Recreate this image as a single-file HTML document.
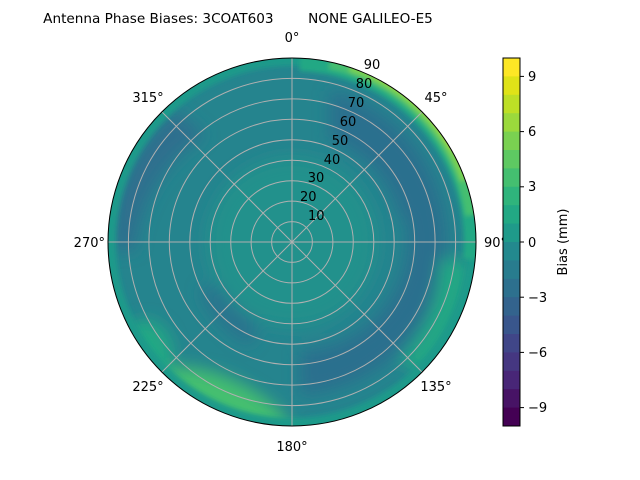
<!DOCTYPE html>
<html><head><meta charset="utf-8"><style>
body{margin:0;background:#fff;width:640px;height:480px;overflow:hidden}
svg{display:block}
text{font-family:"DejaVu Sans","Liberation Sans",sans-serif;fill:#000}
</style></head><body>
<svg width="640" height="480" viewBox="0 0 640 480" xmlns="http://www.w3.org/2000/svg">
<defs>
<clipPath id="c"><circle cx="292" cy="242" r="184"/></clipPath>
<filter id="b" x="-20%" y="-20%" width="140%" height="140%"><feGaussianBlur stdDeviation="8"/></filter>
<filter id="b2"><feGaussianBlur stdDeviation="2.5"/></filter>
</defs>
<text x="238" y="23" text-anchor="middle" font-size="13.6" style="white-space:pre">Antenna Phase Biases: 3COAT603        NONE GALILEO-E5</text>
<g clip-path="url(#c)">
<rect x="100" y="50" width="390" height="390" fill="#25848e"/>
<g filter="url(#b)">
<circle cx="292" cy="242" r="85" fill="#21918c"/>
<path d="M330 90 A155 155 0 0 1 300 395 L300 350 A110 110 0 0 0 330 135 Z" fill="#2c6f8e"/>
<path d="M330 100 A145 145 0 0 1 440 210 L400 220 A110 110 0 0 0 330 140 Z" fill="#2c6f8e"/>
<path d="M175 110 A160 160 0 0 0 112 250 L135 250 A150 150 0 0 1 205 135 Z" fill="#2d708e"/>
<path d="M200 290 A110 110 0 0 0 250 345 L258 325 A95 95 0 0 1 218 285 Z" fill="#2c728e"/>
<ellipse cx="225" cy="405" rx="70" ry="26" fill="#44bf70" transform="rotate(25 225 405)"/>
<ellipse cx="145" cy="355" rx="28" ry="35" fill="#22a884"/>
<path d="M440 260 A150 150 0 0 1 400 360 L420 375 A170 170 0 0 0 470 260 Z" fill="#22a884"/>
</g>
<circle cx="292" cy="242" r="182" fill="none" stroke="#1f9a8a" stroke-width="12" filter="url(#b2)"/>
<g filter="url(#b2)">
<path d="M300 60 A182 182 0 0 1 474 260" fill="none" stroke="#22a884" stroke-width="22"/>
<path d="M330 62 A180 180 0 0 1 472 215" fill="none" stroke="#44bf70" stroke-width="14"/>
<path d="M350 67 A180 180 0 0 1 465 180" fill="none" stroke="#7ad151" stroke-width="9"/>
<path d="M375 72 A181 181 0 0 1 455 148" fill="none" stroke="#dfe318" stroke-width="6"/>
</g>
</g>
<g fill="none" stroke="#b0b0b0" stroke-width="1">
<circle cx="292" cy="242" r="20.4"/><circle cx="292" cy="242" r="40.9"/><circle cx="292" cy="242" r="61.3"/>
<circle cx="292" cy="242" r="81.8"/><circle cx="292" cy="242" r="102.2"/><circle cx="292" cy="242" r="122.7"/>
<circle cx="292" cy="242" r="143.1"/><circle cx="292" cy="242" r="163.6"/>
<line x1="292" y1="58" x2="292" y2="426"/><line x1="108" y1="242" x2="476" y2="242"/>
<line x1="162" y1="112" x2="422" y2="372"/><line x1="422" y1="112" x2="162" y2="372"/>
</g>
<circle cx="292" cy="242" r="184" fill="none" stroke="#000" stroke-width="1"/>
<g font-size="13">
<text x="292" y="42" text-anchor="middle">0°</text>
<text x="436" y="102" text-anchor="middle">45°</text>
<text x="484" y="247">90°</text>
<text x="436" y="391" text-anchor="middle">135°</text>
<text x="292" y="451" text-anchor="middle">180°</text>
<text x="148" y="391" text-anchor="middle">225°</text>
<text x="105" y="247" text-anchor="end">270°</text>
<text x="148" y="102" text-anchor="middle">315°</text>
<text x="308" y="220">10</text><text x="300" y="201">20</text><text x="316" y="182" text-anchor="middle">30</text>
<text x="332" y="164" text-anchor="middle">40</text><text x="340" y="145" text-anchor="middle">50</text>
<text x="348" y="126" text-anchor="middle">60</text><text x="356" y="107" text-anchor="middle">70</text>
<text x="364" y="88" text-anchor="middle">80</text><text x="372" y="69" text-anchor="middle">90</text>
</g>
<g>
<rect x="503" y="58" width="17" height="19" fill="#fde725"/>
<rect x="503" y="76.4" width="17" height="19" fill="#dfe318"/>
<rect x="503" y="94.8" width="17" height="19" fill="#bddf26"/>
<rect x="503" y="113.2" width="17" height="19" fill="#9bd93c"/>
<rect x="503" y="131.6" width="17" height="19" fill="#7ad151"/>
<rect x="503" y="150" width="17" height="19" fill="#5ec962"/>
<rect x="503" y="168.4" width="17" height="19" fill="#44bf70"/>
<rect x="503" y="186.8" width="17" height="19" fill="#2fb47c"/>
<rect x="503" y="205.2" width="17" height="19" fill="#22a884"/>
<rect x="503" y="223.6" width="17" height="19" fill="#1f9a8a"/>
<rect x="503" y="242" width="17" height="19" fill="#23898e"/>
<rect x="503" y="260.4" width="17" height="19" fill="#287c8e"/>
<rect x="503" y="278.8" width="17" height="19" fill="#2d708e"/>
<rect x="503" y="297.2" width="17" height="19" fill="#33638d"/>
<rect x="503" y="315.6" width="17" height="19" fill="#39568c"/>
<rect x="503" y="334" width="17" height="19" fill="#404688"/>
<rect x="503" y="352.4" width="17" height="19" fill="#453781"/>
<rect x="503" y="370.8" width="17" height="19" fill="#482677"/>
<rect x="503" y="389.2" width="17" height="19" fill="#471365"/>
<rect x="503" y="407.6" width="17" height="18.4" fill="#440154"/>
<rect x="503" y="58" width="17" height="368" fill="none" stroke="#000" stroke-width="1"/>
</g>
<g stroke="#000" stroke-width="1">
<line x1="520" y1="76.4" x2="524" y2="76.4"/><line x1="520" y1="131.6" x2="524" y2="131.6"/>
<line x1="520" y1="186.8" x2="524" y2="186.8"/><line x1="520" y1="242" x2="524" y2="242"/>
<line x1="520" y1="297.2" x2="524" y2="297.2"/><line x1="520" y1="352.4" x2="524" y2="352.4"/>
<line x1="520" y1="407.6" x2="524" y2="407.6"/>
</g>
<g font-size="13">
<text x="528" y="81">9</text><text x="528" y="136">6</text><text x="528" y="191">3</text>
<text x="528" y="247">0</text><text x="528" y="302">−3</text><text x="528" y="357">−6</text><text x="528" y="412">−9</text>
<text transform="translate(567 242) rotate(-90)" text-anchor="middle">Bias (mm)</text>
</g>
</svg>
</body></html>
